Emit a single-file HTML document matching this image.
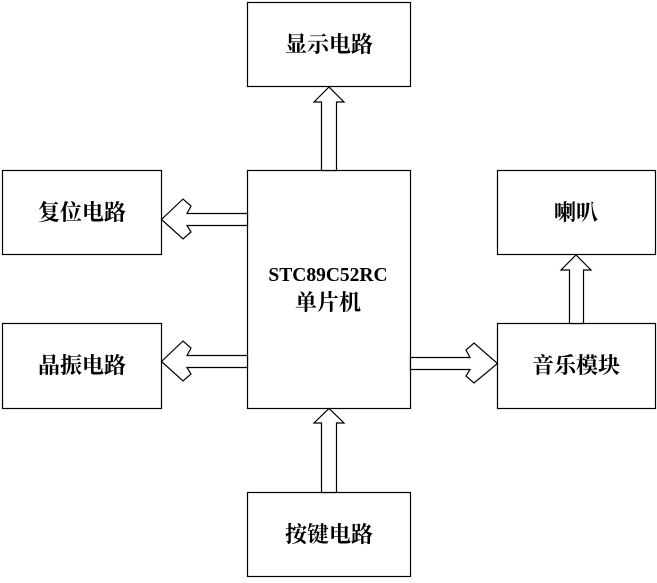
<!DOCTYPE html>
<html><head><meta charset="utf-8"><style>
html,body{margin:0;padding:0;background:#fff;}
svg text{font-family:"Liberation Serif","Noto Serif CJK SC",serif;font-weight:bold;font-size:22px;fill:#000;}
</style></head><body>
<svg width="657" height="578" xmlns="http://www.w3.org/2000/svg">
<g fill="#fff" stroke="#000" stroke-width="1.2">
<rect x="247.5" y="2.5" width="163" height="84"/>
<rect x="247.5" y="170.5" width="163" height="238"/>
<rect x="2.5" y="170.5" width="159" height="84"/>
<rect x="2.5" y="323.5" width="159" height="85"/>
<rect x="497.5" y="170.5" width="158" height="84"/>
<rect x="497.5" y="323.5" width="158" height="85"/>
<rect x="247.5" y="492.5" width="163" height="84"/>
<polygon points="321.5,170.5 321.5,102 314,102 329,87 344,102 336.5,102 336.5,170.5"/>
<polygon points="321.5,492.5 321.5,423 314,423 329,408.5 344,423 336.5,423 336.5,492.5"/>
<polygon points="569.5,323.5 569.5,270 561,270 576,255 591,270 583.5,270 583.5,323.5"/>
<polygon points="247.5,213.5 187,213.5 191,206 183,199 161.5,219.5 183,239 191,232 187,225.5 247.5,225.5"/>
<polygon points="247.5,355.5 187,355.5 191,348 183,341 161.5,361.5 183,381 191,374 187,367.5 247.5,367.5"/>
<polygon points="410.5,357.5 470,357.5 466,350 474,343 497.5,363.5 474,383 466,376 470,369.5 410.5,369.5"/>
</g>
<text x="329" y="52" text-anchor="middle">显示电路</text>
<text x="82" y="220" text-anchor="middle">复位电路</text>
<text x="82" y="373" text-anchor="middle">晶振电路</text>
<text x="576" y="220" text-anchor="middle">喇叭</text>
<text x="576" y="373" text-anchor="middle">音乐模块</text>
<text x="329" y="542" text-anchor="middle">按键电路</text>
<text x="328" y="281" text-anchor="middle" style="font-size:19.5px">STC89C52RC</text>
<text x="328" y="310" text-anchor="middle">单片机</text>
</svg>
</body></html>
